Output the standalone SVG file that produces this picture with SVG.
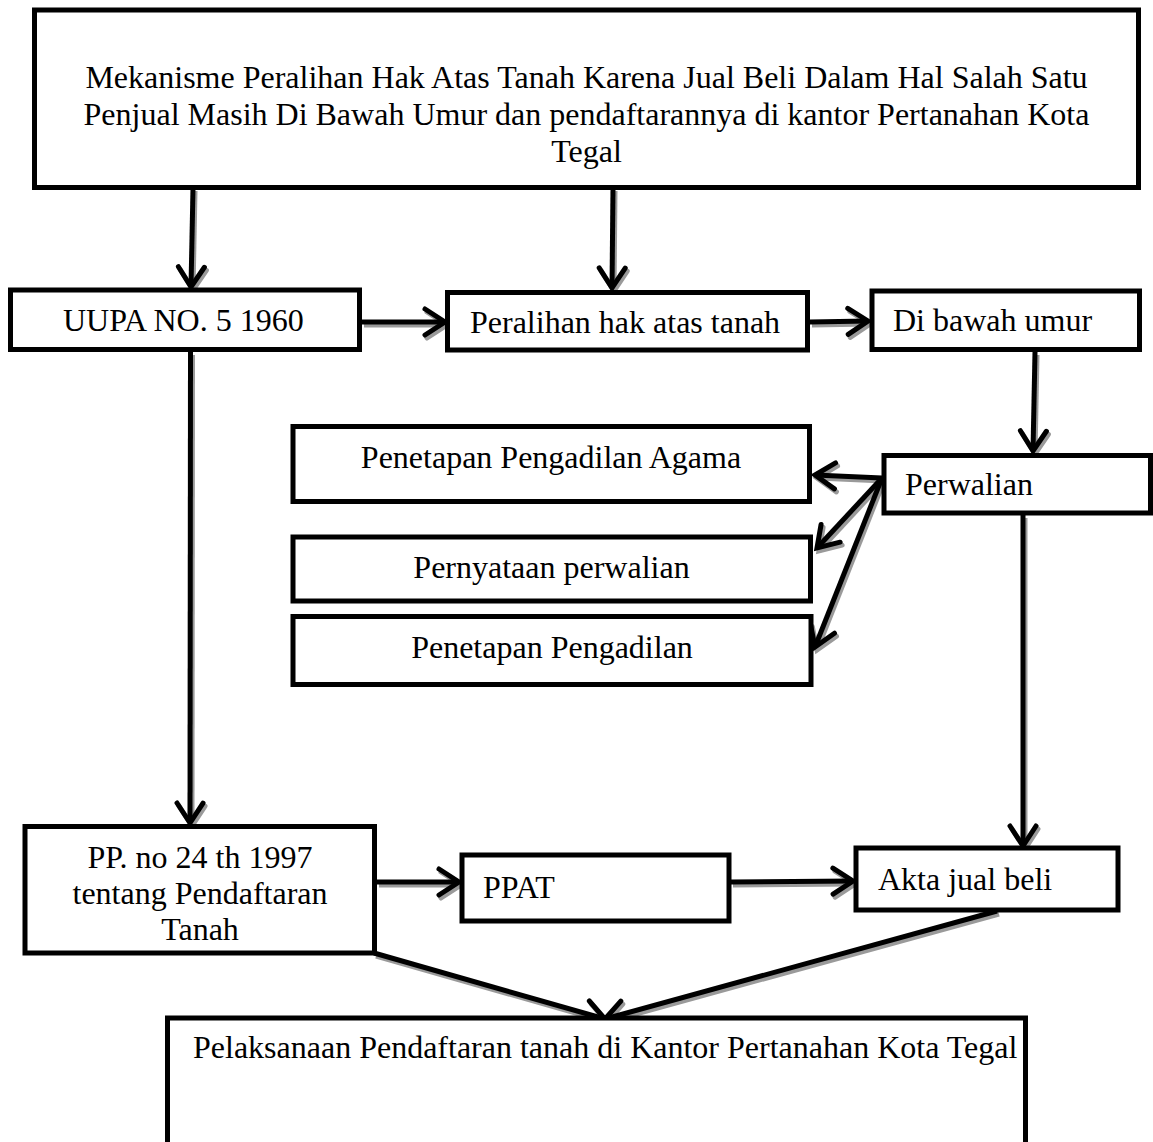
<svg xmlns="http://www.w3.org/2000/svg" width="1153" height="1142" viewBox="0 0 1153 1142">
<defs>
<style>
.box{fill:#fff;stroke:#000;stroke-width:5}
.t{font-family:"Liberation Serif","Times New Roman",serif;font-size:32px;fill:#000}
.c{text-anchor:middle}
.ln{fill:none;stroke:#000;stroke-width:5}
.sh .ln{stroke:#9a9a9a}
</style>
<marker id="ah" markerUnits="userSpaceOnUse" viewBox="-30 -20 36 40" refX="0" refY="0" markerWidth="36" markerHeight="40" orient="auto" overflow="visible">
<path d="M-20,-13 L0,0 L-20,13" fill="none" stroke="#000" stroke-width="5" stroke-linejoin="miter" stroke-linecap="round"/>
</marker>
<marker id="ahs" markerUnits="userSpaceOnUse" viewBox="-30 -20 36 40" refX="0" refY="0" markerWidth="36" markerHeight="40" orient="auto" overflow="visible">
<path d="M-20,-13 L0,0 L-20,13" fill="none" stroke="#9a9a9a" stroke-width="5" stroke-linejoin="miter" stroke-linecap="round"/>
</marker>
</defs>
<rect width="1153" height="1142" fill="#fff"/>

<g id="connectors">
<g class="sh" transform="translate(2,3)">
<path class="ln" d="M193,188 L191,287" marker-end="url(#ahs)"/>
<path class="ln" d="M613,188 L612,288" marker-end="url(#ahs)"/>
<path class="ln" d="M362,322 L445,322" marker-end="url(#ahs)"/>
<path class="ln" d="M810,322 L868,321" marker-end="url(#ahs)"/>
<path class="ln" d="M1035,352 L1033,451" marker-end="url(#ahs)"/>
<path class="ln" d="M882,478 L815,475" marker-end="url(#ahs)"/>
<path class="ln" d="M882,478 L817,548" marker-end="url(#ahs)"/>
<path class="ln" d="M882,478 L815,647" marker-end="url(#ahs)"/>
<path class="ln" d="M190.5,352 L190,823" marker-end="url(#ahs)"/>
<path class="ln" d="M1023,515 L1023,846" marker-end="url(#ahs)"/>
<path class="ln" d="M377,882 L459,882" marker-end="url(#ahs)"/>
<path class="ln" d="M731,882 L853,881" marker-end="url(#ahs)"/>
<path class="ln" d="M374,953 L605,1019" marker-end="url(#ahs)"/>
<path class="ln" d="M997,911 L605,1019" marker-end="url(#ahs)"/>
</g>
<g>
<path class="ln" d="M193,188 L191,287" marker-end="url(#ah)"/>
<path class="ln" d="M613,188 L612,288" marker-end="url(#ah)"/>
<path class="ln" d="M362,322 L445,322" marker-end="url(#ah)"/>
<path class="ln" d="M810,322 L868,321" marker-end="url(#ah)"/>
<path class="ln" d="M1035,352 L1033,451" marker-end="url(#ah)"/>
<path class="ln" d="M882,478 L815,475" marker-end="url(#ah)"/>
<path class="ln" d="M882,478 L817,548" marker-end="url(#ah)"/>
<path class="ln" d="M882,478 L815,647" marker-end="url(#ah)"/>
<path class="ln" d="M190.5,352 L190,823" marker-end="url(#ah)"/>
<path class="ln" d="M1023,515 L1023,846" marker-end="url(#ah)"/>
<path class="ln" d="M377,882 L459,882" marker-end="url(#ah)"/>
<path class="ln" d="M731,882 L853,881" marker-end="url(#ah)"/>
<path class="ln" d="M374,953 L605,1019" marker-end="url(#ah)"/>
<path class="ln" d="M997,911 L605,1019" marker-end="url(#ah)"/>
</g>
</g>

<g id="top">
<rect class="box" x="34.5" y="10" width="1104" height="177.5"/>
<text class="t c" x="586.5" y="88">Mekanisme Peralihan Hak Atas Tanah Karena Jual Beli Dalam Hal Salah Satu</text>
<text class="t c" x="586.5" y="125">Penjual Masih Di Bawah Umur dan pendaftarannya di kantor Pertanahan Kota</text>
<text class="t c" x="586.5" y="162">Tegal</text>
</g>
<g id="uupa">
<rect class="box" x="10.5" y="290" width="349" height="59.5"/>
<text class="t" x="63" y="331">UUPA NO. 5 1960</text>
</g>
<g id="peralihan">
<rect class="box" x="447.5" y="292.5" width="360" height="57.5"/>
<text class="t" x="470" y="333">Peralihan hak atas tanah</text>
</g>
<g id="dibawah">
<rect class="box" x="872" y="291" width="267.5" height="58.5"/>
<text class="t" x="893" y="331">Di bawah umur</text>
</g>
<g id="perwalian">
<rect class="box" x="884" y="455.5" width="266.5" height="57.5"/>
<text class="t" x="905" y="495">Perwalian</text>
</g>
<g id="agama">
<rect class="box" x="293" y="426.5" width="516.5" height="75"/>
<text class="t c" x="551" y="468">Penetapan Pengadilan Agama</text>
</g>
<g id="pernyataan">
<rect class="box" x="293" y="537" width="517.5" height="64"/>
<text class="t c" x="551.5" y="578">Pernyataan perwalian</text>
</g>
<g id="penetapan">
<rect class="box" x="293" y="616.5" width="518" height="68"/>
<text class="t c" x="552" y="658">Penetapan Pengadilan</text>
</g>
<g id="pp">
<rect class="box" x="25" y="826.5" width="349.5" height="126.5"/>
<text class="t c" x="200" y="868">PP. no 24 th 1997</text>
<text class="t c" x="200" y="904">tentang Pendaftaran</text>
<text class="t c" x="200" y="940">Tanah</text>
</g>
<g id="ppat">
<rect class="box" x="462" y="855" width="267" height="66"/>
<text class="t" x="483" y="898">PPAT</text>
</g>
<g id="akta">
<rect class="box" x="856" y="848" width="262" height="62"/>
<text class="t" x="878" y="890">Akta jual beli</text>
</g>
<g id="pelaksanaan">
<rect class="box" x="167.5" y="1018" width="858" height="150"/>
<text class="t" x="193" y="1058">Pelaksanaan Pendaftaran tanah di Kantor Pertanahan Kota Tegal</text>
</g>
</svg>
